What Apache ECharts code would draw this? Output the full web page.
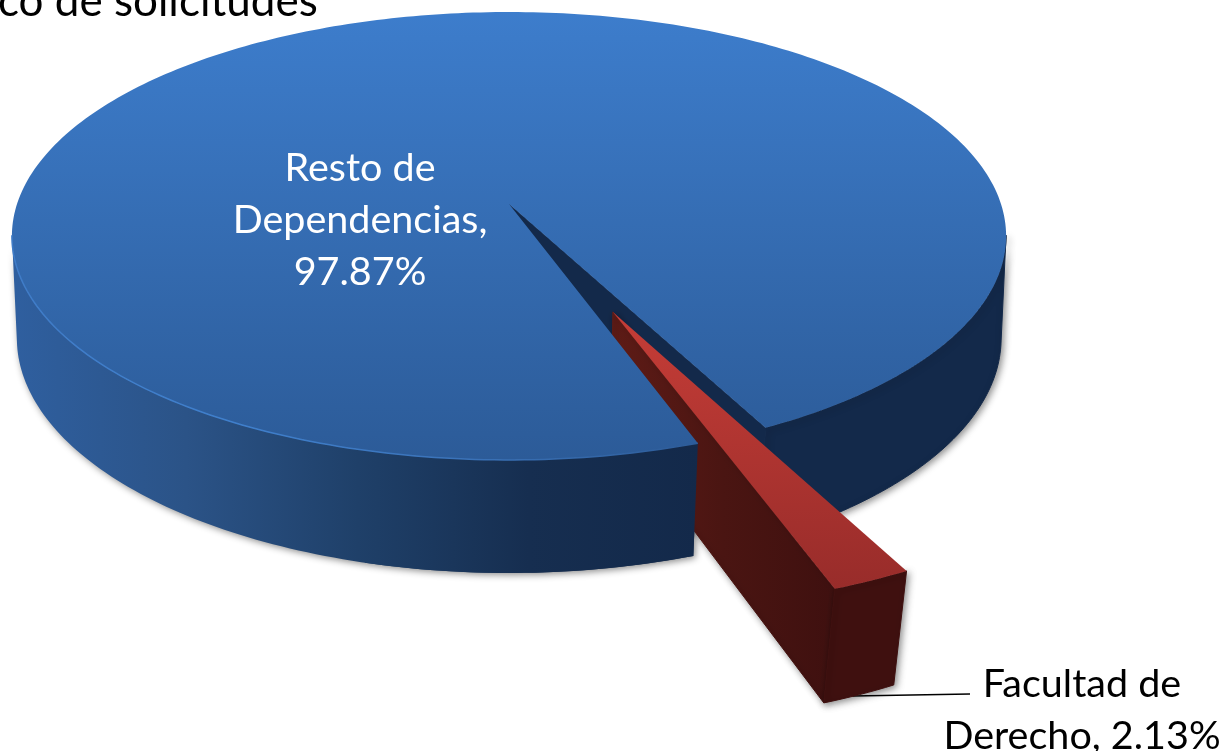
<!DOCTYPE html>
<html>
<head>
<meta charset="utf-8">
<title>Solicitudes</title>
<script src="https://cdn.jsdelivr.net/npm/echarts@6/dist/echarts.min.js"></script>
<style>
  html, body { margin: 0; padding: 0; background: #fff; }
  #chart { width: 1222px; height: 751px; overflow: hidden; }
</style>
</head>
<body>
<div id="chart"></div>
<script>
const chartTitle = "co de solicitudes";
const categories = ["Resto de\nDependencias", "Facultad de\nDerecho"];
const labelSeparators = [",\n", ", "];
const values = [97.87, 2.13];

// where the cut of the red slice starts, degrees from the front, going right
const START_ANGLE = 19.4;
const EXPLODE = 0.5;

// perspective of the disc, measured on the picture
const CX = 509, CY = 204, RX = 492, RY = 219.4, DEPTH = 105;
const PERSP = 0.1428, PERSP_Z = 0.008, PERSP_ZV = 0.014;

const FONT = "Lato, 'Open Sans', sans-serif";
const rad = (d) => (d * Math.PI) / 180;

function project(u, v, z) {
  const w = 1 - PERSP * v + (PERSP_Z + PERSP_ZV * v) * z;
  return [CX + (RX * u) / w, CY + (RY * v + DEPTH * z) / w];
}

function rimPoint(a, z, off) {
  return project(off[0] + Math.sin(rad(a)), off[1] + Math.cos(rad(a)), z);
}

function arc(a0, a1, z, off) {
  const pts = [];
  const n = Math.max(2, Math.ceil(Math.abs(a1 - a0)));
  for (let i = 0; i <= n; i++) {
    pts.push(rimPoint(a0 + ((a1 - a0) * i) / n, z, off));
  }
  return pts;
}

function rim(a0, a1, off) {
  return arc(a0, a1, 0, off).concat(arc(a0, a1, 1, off).reverse());
}

function vGrad(y0, y1, c0, c1) {
  return new echarts.graphic.LinearGradient(0, y0, 0, y1, [
    { offset: 0, color: c0 },
    { offset: 1, color: c1 },
  ], true);
}

function hGrad(x0, x1, stops) {
  return new echarts.graphic.LinearGradient(x0, 0, x1, 0, stops.map((c, i) => ({
    offset: i / (stops.length - 1),
    color: c,
  })), true);
}

const SHADOW = {
  shadowColor: "rgba(0,0,0,0.45)",
  shadowBlur: 7,
  shadowOffsetX: 2,
  shadowOffsetY: 2,
};

function poly(points, fill, z2, extra) {
  return {
    type: "polygon",
    z2,
    shape: { points },
    style: Object.assign({ fill }, extra || {}),
  };
}

function text(str, x, y, fill, z2) {
  return {
    type: "text",
    z2,
    x,
    y,
    style: {
      text: str,
      fill,
      fontFamily: FONT,
      fontSize: 39.5,
      lineHeight: 52,
      align: "center",
      verticalAlign: "middle",
    },
  };
}

function renderItem(params, api) {
  const total = values.reduce((s, v) => s + v, 0);
  const i = params.dataIndex;
  const sweep = (api.value(0) / total) * 360;
  const redSweep = (values[1] / total) * 360;
  const label = categories[i] + labelSeparators[i] + api.value(0).toFixed(2) + "%";

  if (i === 0) {
    const a0 = START_ANGLE + redSweep;
    const a1 = a0 + sweep;
    const none = [0, 0];
    const apex = project(0, 0, 0);
    const topFill = vGrad(12, 460, "#3d7dcc", "#2c5b98");
    const leftRimFill = hGrad(15, 700, ["#2f5f9f", "#2b5387", "#1f4069", "#162e50", "#13294a"]);
    return {
      type: "group",
      children: [
        poly(rim(278, a1, none), leftRimFill, 0, SHADOW),
        poly(rim(a0, 82, none), "#13294a", 1, Object.assign({ stroke: "#13294a", lineWidth: 1 }, SHADOW)),
        // cut wall seen through the gap
        poly([apex, rimPoint(a0, 0, none), rimPoint(a0, 1, none), project(0, 0, 1)], "#13294a", 2, {
          stroke: "#13294a",
          lineWidth: 1,
        }),
        poly([apex].concat(arc(a0, a1, 0, none)), topFill, 6),
        // front end of the rim sits over the red wall
        poly(rim(345, a1, none), leftRimFill, 7),
        {
          type: "polyline",
          z2: 8,
          shape: { points: arc(278, a1, 0, none) },
          style: {
            fill: null,
            lineWidth: 1.5,
            stroke: hGrad(15, 700, ["#3f7cc8", "#3f7fcc", "#3a72b8", "#2d5c99"]),
          },
        },
        text(label, 360, 220, "#ffffff", 9),
      ],
    };
  }

  const a0 = START_ANGLE;
  const a1 = a0 + sweep;
  const mid = rad(a0 + sweep / 2);
  const off = [EXPLODE * Math.sin(mid), EXPLODE * Math.cos(mid)];
  const apex = project(off[0], off[1], 0);
  const anchor = rimPoint(a0 + sweep * 0.4, 1, off);
  const wallFill = hGrad(612, 835, ["#5e1b16", "#4a1512", "#3f100f"]);
  return {
    type: "group",
    children: [
      {
        type: "polyline",
        z2: 3,
        shape: { points: [[anchor[0], 696], [970, 694]] },
        style: { fill: null, stroke: "#000000", lineWidth: 1.5 },
      },
      poly(
        [apex, rimPoint(a0, 0, off), rimPoint(a0, 1, off), project(off[0], off[1], 1)],
        wallFill,
        3,
        Object.assign({ stroke: wallFill, lineWidth: 1 }, SHADOW)
      ),
      poly(rim(a0, a1, off), "#3f100f", 4, Object.assign({ stroke: "#3f100f", lineWidth: 1 }, SHADOW)),
      poly([apex].concat(arc(a0, a1, 0, off)), vGrad(310, 590, "#c63d37", "#982c2a"), 5),
      text(label, 1082, 710, "#000000", 9),
    ],
  };
}

const chart = echarts.init(document.getElementById("chart"), null, { renderer: "canvas" });
chart.setOption({
  backgroundColor: "#ffffff",
  animation: false,
  title: {
    text: chartTitle,
    left: -2,
    top: -20,
    padding: 0,
    textStyle: { color: "#000", fontFamily: FONT, fontSize: 44, fontWeight: "normal" },
  },
  series: [
    {
      type: "custom",
      coordinateSystem: "none",
      silent: true,
      data: values.map((v) => [v]),
      renderItem,
    },
  ],
});
</script>
</body>
</html>
